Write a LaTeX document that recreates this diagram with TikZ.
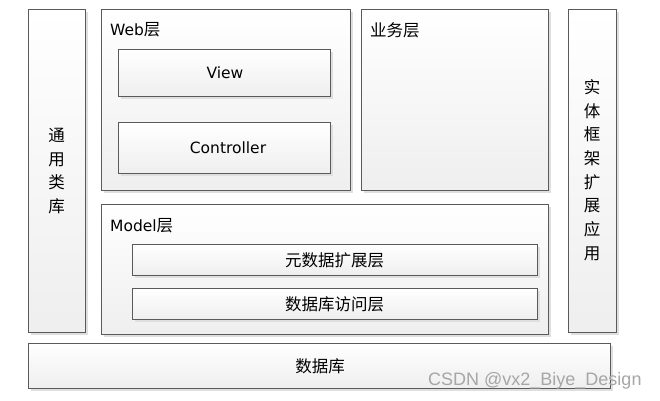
\documentclass[tikz,border=0pt]{standalone}
\usepackage{fontspec}
\setmainfont{DejaVu Sans}
\newfontfamily\cjk{Noto Sans CJK SC}
\usetikzlibrary{shadows}
\definecolor{edge}{HTML}{5A5A5A}
\newcommand{\latf}{\fontsize{15.5}{17}\selectfont}
\newcommand{\cjkf}{\cjk\fontsize{16.5}{18}\selectfont}
\tikzset{
  box/.style={draw=edge, line width=0.9pt, top color=white, bottom color=gray!13,
    drop shadow={shadow xshift=3pt, shadow yshift=-3pt, fill=gray!25, opacity=1},
    anchor=north west, inner sep=0pt},
  lbl/.style={anchor=west, inner sep=0pt},
  vtext/.style={align=center, inner sep=0pt, font=\cjk\fontsize{16.5}{23.7}\selectfont},
}
\begin{document}
\begin{tikzpicture}[x=1pt,y=-1pt]
\useasboundingbox (0,0) rectangle (660,400);
% left column
\node[box, minimum width=57pt, minimum height=323pt] (lib) at (28,9) {};
\node[vtext] (libt) at (56.5,171) {通\\用\\类\\库};
% web layer
\node[box, minimum width=249pt, minimum height=181pt] (web) at (101,9) {};
\node[lbl] (webt) at (110,30) {\latf Web{\cjkf 层}};
\node[box, minimum width=212pt, minimum height=47pt] (view) at (118,49) {};
\node (viewt) at (225,73) {\latf View};
\node[box, minimum width=212pt, minimum height=51pt] (ctrl) at (118,122) {};
\node (ctrlt) at (228,148) {\latf Controller};
% business layer
\node[box, minimum width=187pt, minimum height=181pt] (biz) at (361,9) {};
\node[lbl] (bizt) at (370,30) {\cjkf 业务层};
% right column
\node[box, minimum width=48pt, minimum height=323pt] (ent) at (568,9) {};
\node[vtext] (entt) at (592,170) {实\\体\\框\\架\\扩\\展\\应\\用};
% model layer
\node[box, minimum width=447pt, minimum height=130pt] (model) at (101,204) {};
\node[lbl] (modelt) at (110,226) {\latf Model{\cjkf 层}};
\node[box, minimum width=405pt, minimum height=31pt] (meta) at (132,244) {};
\node (metat) at (334.5,260) {\cjkf 元数据扩展层};
\node[box, minimum width=405pt, minimum height=31pt] (dao) at (132,288) {};
\node (daot) at (334.5,304) {\cjkf 数据库访问层};
% database
\node[box, minimum width=582pt, minimum height=45pt] (db) at (28,343) {};
\node (dbt) at (320,366) {\cjkf 数据库};
% watermark
\node[anchor=west, inner sep=0pt, text=gray!70, font={\fontspec{Liberation Sans}\fontsize{18}{20}\selectfont}] (wm) at (428,381) {CSDN @vx2\_Biye\_Design};
\end{tikzpicture}
\end{document}
